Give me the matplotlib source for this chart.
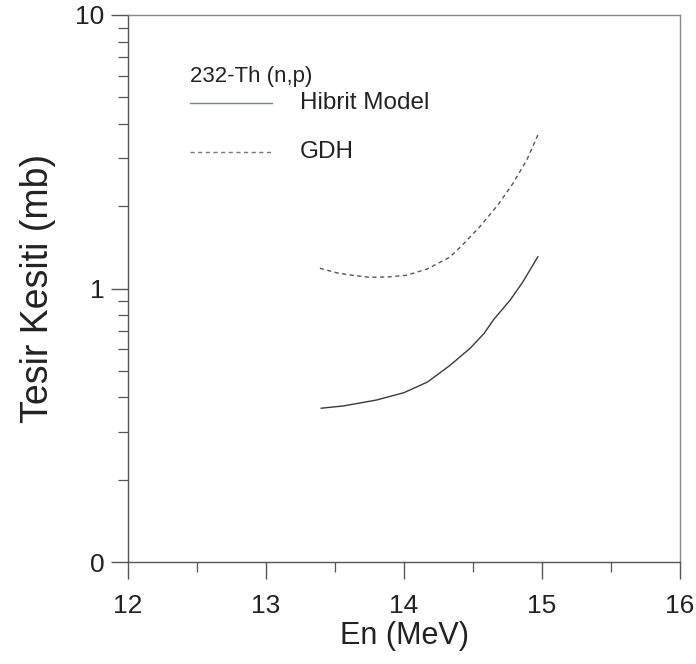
import matplotlib
matplotlib.use("Agg")
import matplotlib.pyplot as plt
from matplotlib.ticker import FixedLocator, FixedFormatter, LogLocator, NullFormatter, MultipleLocator
from matplotlib.lines import Line2D

plt.rcParams['font.family'] = ['Liberation Sans', 'DejaVu Sans']

# Data
hibrit_en = [13.40, 13.56, 13.80, 14.00, 14.17, 14.33, 14.48, 14.58, 14.65, 14.77, 14.86, 14.97]
hibrit_xs = [0.365, 0.372, 0.391, 0.416, 0.455, 0.522, 0.605, 0.685, 0.770, 0.908, 1.055, 1.306]
gdh_en = [13.39, 13.51, 13.61, 13.75, 13.88, 14.02, 14.17, 14.33, 14.41, 14.55, 14.68, 14.79, 14.89, 14.97]
gdh_xs = [1.186, 1.142, 1.120, 1.099, 1.102, 1.118, 1.180, 1.300, 1.420, 1.683, 2.019, 2.425, 2.951, 3.64]

ytick_vals = [0.1, 1, 10]
ytick_labels = ["0", "1", "10"]
xtick_vals = [12, 13, 14, 15, 16]

title_text = "232-Th (n,p)"
label_hibrit = "Hibrit Model"
label_gdh = "GDH"
xlabel = "En (MeV)"
ylabel = "Tesir Kesiti (mb)"

fig = plt.figure(figsize=(6.96, 6.64), dpi=100)
ax = fig.add_axes([128/696, 1-562/664, 552/696, 547/664])

ax.plot(hibrit_en, hibrit_xs, color='#3a3a3a', lw=1.0, solid_joinstyle='round')
ax.plot(gdh_en, gdh_xs, color='#555555', lw=1.0, linestyle=(0, (3, 2.5)))

ax.set_yscale('log')
ax.set_xlim(12, 16)
ax.set_ylim(0.1, 10)

ax.yaxis.set_major_locator(FixedLocator(ytick_vals))
ax.yaxis.set_major_formatter(FixedFormatter(ytick_labels))
ax.yaxis.set_minor_locator(LogLocator(base=10, subs=range(2, 10)))
ax.yaxis.set_minor_formatter(NullFormatter())
ax.xaxis.set_major_locator(FixedLocator(xtick_vals))
ax.xaxis.set_minor_locator(MultipleLocator(0.5))

axis_col = '#555555'
for s in ax.spines.values():
    s.set_color(axis_col)
    s.set_linewidth(1.0)
ax.spines['top'].set_color('#888888')
ax.spines['right'].set_color('#888888')

ax.tick_params(axis='both', which='major', direction='out', length=12, width=1.0,
               color=axis_col, labelsize=19, labelcolor='#222222')
ax.tick_params(axis='both', which='minor', direction='out', length=7, width=0.9,
               color=axis_col)
ax.tick_params(axis='x', which='major', pad=11)
ax.tick_params(axis='y', which='major', pad=5)

ax.set_xlabel(xlabel, fontsize=22, color='#222222', labelpad=2)
ax.set_ylabel(ylabel, fontsize=27, color='#222222', labelpad=14)

# Legend block
ax.text(0.112, 0.888, title_text, transform=ax.transAxes, fontsize=16,
        color='#222222', va='center', ha='left')
ax.add_line(Line2D([0.112, 0.261], [0.839, 0.839], transform=ax.transAxes,
                   color='#6f8a8a', lw=1.0))
ax.text(0.312, 0.839, label_hibrit, transform=ax.transAxes, fontsize=17.5,
        color='#222222', va='center', ha='left')
ax.add_line(Line2D([0.112, 0.261], [0.750, 0.750], transform=ax.transAxes,
                   color='#777777', lw=1.0, linestyle=(0, (3, 2.5))))
ax.text(0.312, 0.750, label_gdh, transform=ax.transAxes, fontsize=17.5,
        color='#222222', va='center', ha='left')

fig.savefig("out.png", dpi=100, facecolor='white')
